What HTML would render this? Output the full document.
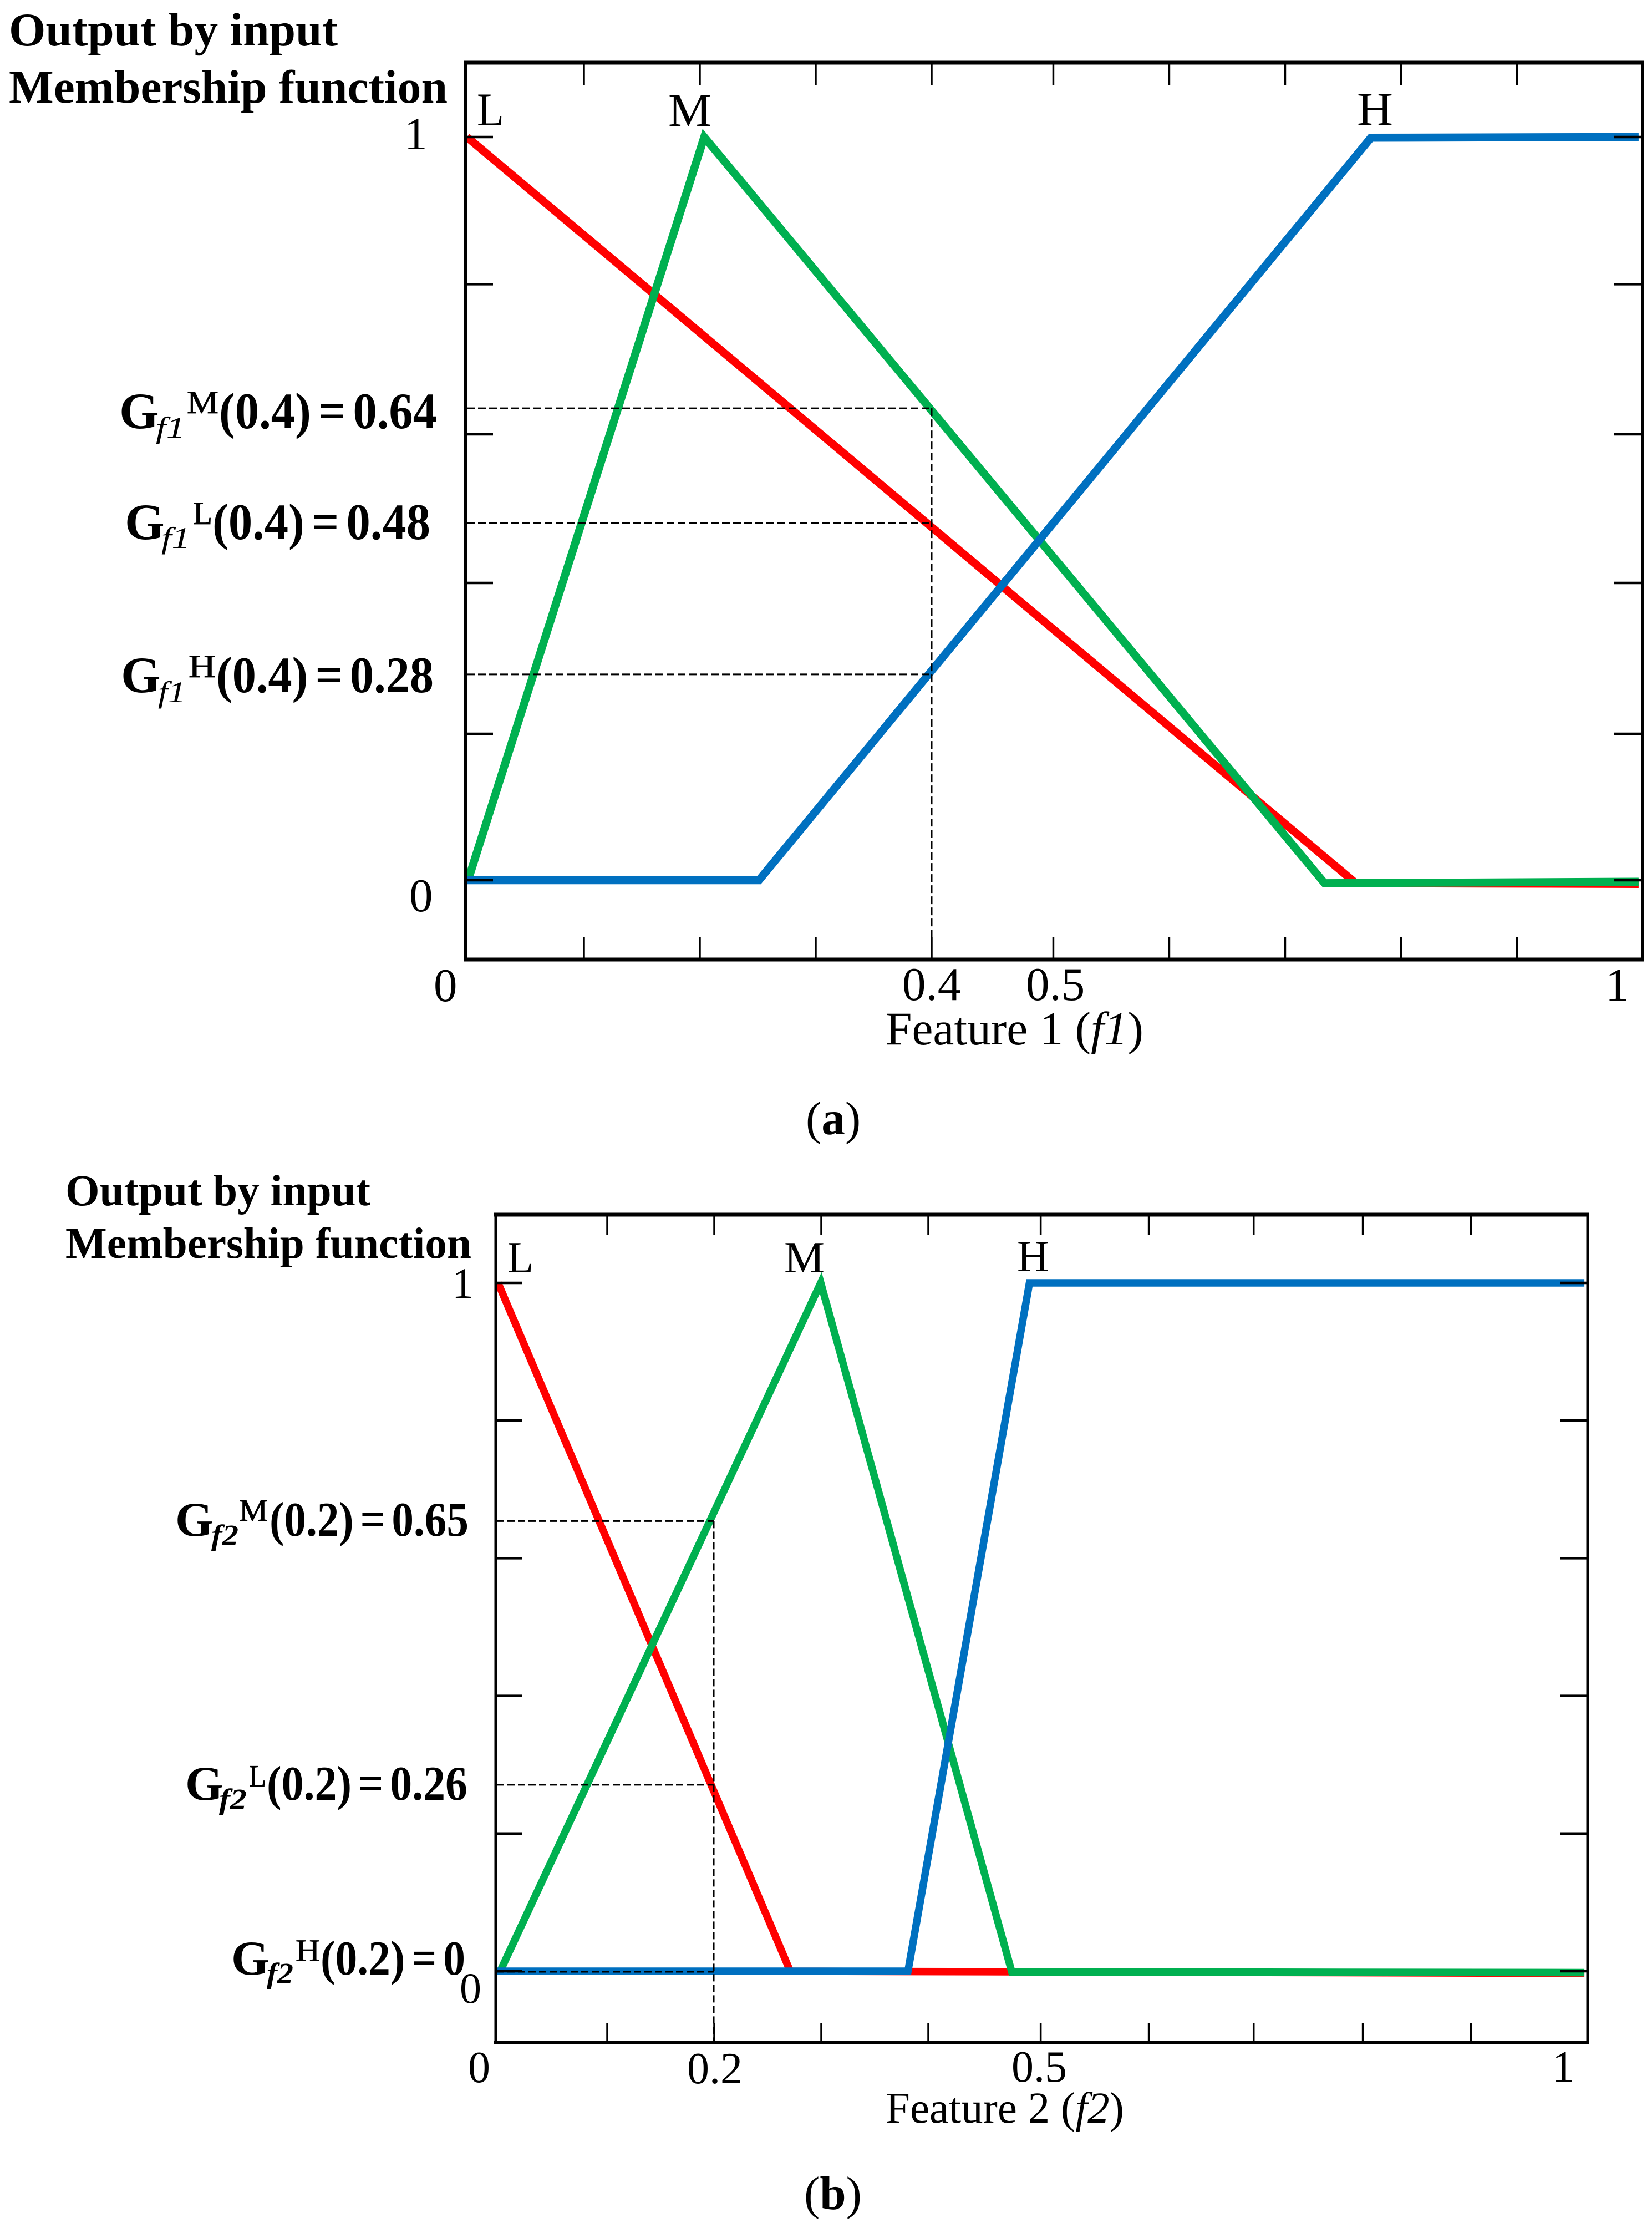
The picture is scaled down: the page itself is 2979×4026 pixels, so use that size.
<!DOCTYPE html>
<html lang="en">
<head>
<meta charset="utf-8">
<title>Output by input membership function</title>
<style>
html,body{margin:0;padding:0;background:#fff;}
svg{display:block;}
text{font-family:"Liberation Serif","Times New Roman",serif;fill:#000;}
.b{font-weight:bold;}
.i{font-style:italic;}
.sup{stroke:#000;stroke-width:0.8;}
.val{word-spacing:-9px;}
</style>
</head>
<body>
<svg id="figure" xmlns="http://www.w3.org/2000/svg" width="2979" height="4026" viewBox="0 0 2979 4026">
<rect x="0" y="0" width="2979" height="4026" fill="#ffffff"/>

<g id="panelA">
  <g id="seriesA"></g>
  <g id="axesA">
    <line x1="836" y1="113" x2="2965" y2="113" stroke="#000" stroke-width="7"/>
    <line x1="836" y1="1730" x2="2965" y2="1730" stroke="#000" stroke-width="7"/>
    <line x1="839.5" y1="110" x2="839.5" y2="1733" stroke="#000" stroke-width="6"/>
    <line x1="2962" y1="110" x2="2962" y2="1733" stroke="#000" stroke-width="6"/>
  </g>
  <g id="ticksA"></g>
  <g id="guidesA"></g>

  <text class="b" x="16" y="82" font-size="85" textLength="593" lengthAdjust="spacingAndGlyphs">Output by input</text>
  <text class="b" x="16" y="185" font-size="85" textLength="791" lengthAdjust="spacingAndGlyphs">Membership function</text>

  <text x="860" y="226" font-size="85" textLength="49" lengthAdjust="spacingAndGlyphs">L</text>
  <text x="1205" y="227" font-size="85" textLength="78" lengthAdjust="spacingAndGlyphs">M</text>
  <text x="2447" y="225" font-size="85" textLength="65" lengthAdjust="spacingAndGlyphs">H</text>

  <text x="729" y="269" font-size="83">1</text>
  <text x="738" y="1643" font-size="85">0</text>
  <text x="782" y="1805" font-size="85">0</text>
  <text x="1627" y="1803" font-size="85">0.4</text>
  <text x="1850" y="1803" font-size="85">0.5</text>
  <text x="2895" y="1804" font-size="85">1</text>
  <text x="1597" y="1883" font-size="85" textLength="465" lengthAdjust="spacingAndGlyphs">Feature 1 (<tspan class="i">f1</tspan>)</text>
  <text x="1453" y="2045" font-size="85">(<tspan class="b">a</tspan>)</text>

  <g>
    <text class="b" x="215" y="772" font-size="92">G</text>
    <text class="i" x="281" y="789" font-size="54" textLength="53" lengthAdjust="spacingAndGlyphs">f1</text>
    <text class="sup" x="337" y="745" font-size="58" textLength="57" lengthAdjust="spacingAndGlyphs">M</text>
    <text class="b val" x="395" y="772" font-size="92" textLength="393" lengthAdjust="spacingAndGlyphs">(0.4) = 0.64</text>
  </g>
  <g>
    <text class="b" x="225" y="972" font-size="92">G</text>
    <text class="i" x="291" y="988" font-size="54" textLength="52" lengthAdjust="spacingAndGlyphs">f1</text>
    <text class="sup" x="348" y="945" font-size="58" textLength="35" lengthAdjust="spacingAndGlyphs">L</text>
    <text class="b val" x="383" y="972" font-size="92" textLength="393" lengthAdjust="spacingAndGlyphs">(0.4) = 0.48</text>
  </g>
  <g>
    <text class="b" x="218" y="1248" font-size="92">G</text>
    <text class="i" x="285" y="1266" font-size="54" textLength="50" lengthAdjust="spacingAndGlyphs">f1</text>
    <text class="sup" x="340" y="1221" font-size="58" textLength="49" lengthAdjust="spacingAndGlyphs">H</text>
    <text class="b val" x="390" y="1248" font-size="92" textLength="392" lengthAdjust="spacingAndGlyphs">(0.4) = 0.28</text>
  </g>
</g>

<g id="panelB">
  <g id="seriesB"></g>
  <g id="axesB">
    <line x1="891" y1="2190" x2="2866" y2="2190" stroke="#000" stroke-width="7"/>
    <line x1="891" y1="3683" x2="2866" y2="3683" stroke="#000" stroke-width="6"/>
    <line x1="894" y1="2187" x2="894" y2="3686" stroke="#000" stroke-width="5"/>
    <line x1="2863" y1="2187" x2="2863" y2="3686" stroke="#000" stroke-width="5"/>
  </g>
  <g id="ticksB"></g>
  <g id="guidesB"></g>

  <text class="b" x="118" y="2173" font-size="79" textLength="550" lengthAdjust="spacingAndGlyphs">Output by input</text>
  <text class="b" x="118" y="2268" font-size="79" textLength="732" lengthAdjust="spacingAndGlyphs">Membership function</text>

  <text x="915" y="2294" font-size="80" textLength="47" lengthAdjust="spacingAndGlyphs">L</text>
  <text x="1414" y="2294" font-size="80" textLength="73" lengthAdjust="spacingAndGlyphs">M</text>
  <text x="1834" y="2292" font-size="80" textLength="58" lengthAdjust="spacingAndGlyphs">H</text>

  <text x="815" y="2340" font-size="78">1</text>
  <text x="829" y="3611" font-size="78">0</text>
  <text x="844" y="3754" font-size="80">0</text>
  <text x="1239" y="3756" font-size="80">0.2</text>
  <text x="1824" y="3753" font-size="80">0.5</text>
  <text x="2799" y="3753" font-size="80">1</text>
  <text x="1597" y="3827" font-size="79" textLength="430" lengthAdjust="spacingAndGlyphs">Feature 2 (<tspan class="i">f2</tspan>)</text>
  <text x="1450" y="3983" font-size="85">(<tspan class="b">b</tspan>)</text>

  <g>
    <text class="b" x="316" y="2769" font-size="88">G</text>
    <text class="i b" x="381" y="2785" font-size="52" textLength="49" lengthAdjust="spacingAndGlyphs">f2</text>
    <text class="sup" x="431" y="2742" font-size="56" textLength="52" lengthAdjust="spacingAndGlyphs">M</text>
    <text class="b val" x="486" y="2769" font-size="88" textLength="359" lengthAdjust="spacingAndGlyphs">(0.2) = 0.65</text>
  </g>
  <g>
    <text class="b" x="334" y="3245" font-size="88">G</text>
    <text class="i b" x="395" y="3261" font-size="52" textLength="50" lengthAdjust="spacingAndGlyphs">f2</text>
    <text class="sup" x="449" y="3221" font-size="56" textLength="31" lengthAdjust="spacingAndGlyphs">L</text>
    <text class="b val" x="481" y="3245" font-size="88" textLength="362" lengthAdjust="spacingAndGlyphs">(0.2) = 0.26</text>
  </g>
  <g>
    <text class="b" x="417" y="3560" font-size="88">G</text>
    <text class="i b" x="481" y="3575" font-size="52" textLength="48" lengthAdjust="spacingAndGlyphs">f2</text>
    <text class="sup" x="533" y="3535" font-size="56" textLength="44" lengthAdjust="spacingAndGlyphs">H</text>
    <text class="b val" x="578" y="3560" font-size="88" textLength="261" lengthAdjust="spacingAndGlyphs">(0.2) = 0</text>
  </g>
</g>
</svg>

<script>
// Panel (a): feature 1 membership functions
const f1LowX = [-0.001, 0.766, 1.01];
const f1LowY = [1, -0.004, -0.005];
const f1MediumX = [0, 0.2038, 0.739, 1.01];
const f1MediumY = [0, 1, -0.004, -0.002];
const f1HighX = [-0.001, 0.251, 0.779, 1.01];
const f1HighY = [0, 0, 0.999, 1];
const f1XTicks = [0.1, 0.2, 0.3, 0.4, 0.505, 0.605, 0.705, 0.805, 0.905];
const f1YTicks = [0, 0.197, 0.4, 0.6, 0.802, 1];
const f1GuideX = [0.4];
const f1GuideY = [0.635, 0.4806, 0.277];

// Panel (b): feature 2 membership functions
const f2LowX = [-0.002, 0.271, 1.013];
const f2LowY = [1, 0, -0.003];
const f2MediumX = [0, 0.2995, 0.478, 1.013];
const f2MediumY = [0, 1, -0.001, -0.002];
const f2HighX = [-0.0026, 0.381, 0.4945, 1.013];
const f2HighY = [0, 0, 1, 1];
const f2XTicks = [0.1, 0.2, 0.3, 0.4, 0.505, 0.606, 0.704, 0.806, 0.907];
const f2YTicks = [0, 0.2, 0.4, 0.6, 0.8, 1];
const f2GuideX = [0.1995];
const f2GuideY = [0.654, 0.2708, -0.0008];

const SVG_NS = 'http://www.w3.org/2000/svg';
const RED = '#ff0000';
const GREEN = '#00b050';
const BLUE = '#0070c0';

function xA(v) { return 844 + 2090 * v; }
function yA(v) { return 1587 - 1340 * v; }
function xB(v) { return 902 + 1930 * v; }
function yB(v) { return 3554 - 1241 * v; }

function pointsOf(xs, ys, sx, sy) {
  return xs.map(function (x, i) { return sx(x).toFixed(1) + ',' + sy(ys[i]).toFixed(1); }).join(' ');
}

function drawSeries(parent, xs, ys, sx, sy, color, width, name) {
  const el = document.createElementNS(SVG_NS, 'polyline');
  el.setAttribute('points', pointsOf(xs, ys, sx, sy));
  el.setAttribute('fill', 'none');
  el.setAttribute('stroke', color);
  el.setAttribute('stroke-width', width);
  el.setAttribute('stroke-linejoin', 'miter');
  
  
  parent.appendChild(el);
}

function drawSegment(parent, x1, y1, x2, y2, width, dash, name) {
  const el = document.createElementNS(SVG_NS, 'line');
  el.setAttribute('x1', x1);
  el.setAttribute('y1', y1);
  el.setAttribute('x2', x2);
  el.setAttribute('y2', y2);
  el.setAttribute('stroke', '#000');
  el.setAttribute('stroke-width', width);
  if (dash) el.setAttribute('stroke-dasharray', dash);
  
  
  parent.appendChild(el);
}

function drawTicks(parent, xTicks, yTicks, sx, sy, box, xLen, yLen) {
  xTicks.forEach(function (t) {
    drawSegment(parent, sx(t), box.top, sx(t), box.top + xLen, 3.5, null, 'x-tick-top');
    drawSegment(parent, sx(t), box.bottom, sx(t), box.bottom - xLen, 3.5, null, 'x-tick-bottom');
  });
  yTicks.forEach(function (t) {
    drawSegment(parent, box.left, sy(t), box.left + yLen, sy(t), 4.5, null, 'y-tick-left');
    drawSegment(parent, box.right, sy(t), box.right - yLen, sy(t), 4.5, null, 'y-tick-right');
  });
}

function drawGuides(parent, guideX, guideY, sx, sy, box, dash) {
  guideX.forEach(function (g) {
    const topValue = Math.max.apply(null, guideY);
    drawSegment(parent, sx(g), sy(topValue), sx(g), box.bottom, 3, dash, 'vertical-guide');
  });
  guideY.forEach(function (g) {
    drawSegment(parent, box.left, sy(g), sx(guideX[0]), sy(g), 3, dash, 'horizontal-guide');
  });
}

const seriesA = document.getElementById('seriesA');
drawSeries(seriesA, f1LowX, f1LowY, xA, yA, RED, 14.5, 'series-low-f1');
drawSeries(seriesA, f1MediumX, f1MediumY, xA, yA, GREEN, 14.5, 'series-medium-f1');
drawSeries(seriesA, f1HighX, f1HighY, xA, yA, BLUE, 14.5, 'series-high-f1');

const seriesB = document.getElementById('seriesB');
drawSeries(seriesB, f2LowX, f2LowY, xB, yB, RED, 13.5, 'series-low-f2');
drawSeries(seriesB, f2MediumX, f2MediumY, xB, yB, GREEN, 13.5, 'series-medium-f2');
drawSeries(seriesB, f2HighX, f2HighY, xB, yB, BLUE, 13.5, 'series-high-f2');

drawTicks(document.getElementById('ticksA'), f1XTicks, f1YTicks, xA, yA,
  { top: 113, bottom: 1730, left: 840, right: 2960 }, 40, 49);
drawTicks(document.getElementById('ticksB'), f2XTicks, f2YTicks, xB, yB,
  { top: 2190, bottom: 3683, left: 894, right: 2862 }, 36, 48);

drawGuides(document.getElementById('guidesA'), f1GuideX, f1GuideY, xA, yA,
  { bottom: 1730, left: 842 }, '14 6');
drawGuides(document.getElementById('guidesB'), f2GuideX, f2GuideY, xB, yB,
  { bottom: 3683, left: 896 }, '13 6');
</script>
</body>
</html>
